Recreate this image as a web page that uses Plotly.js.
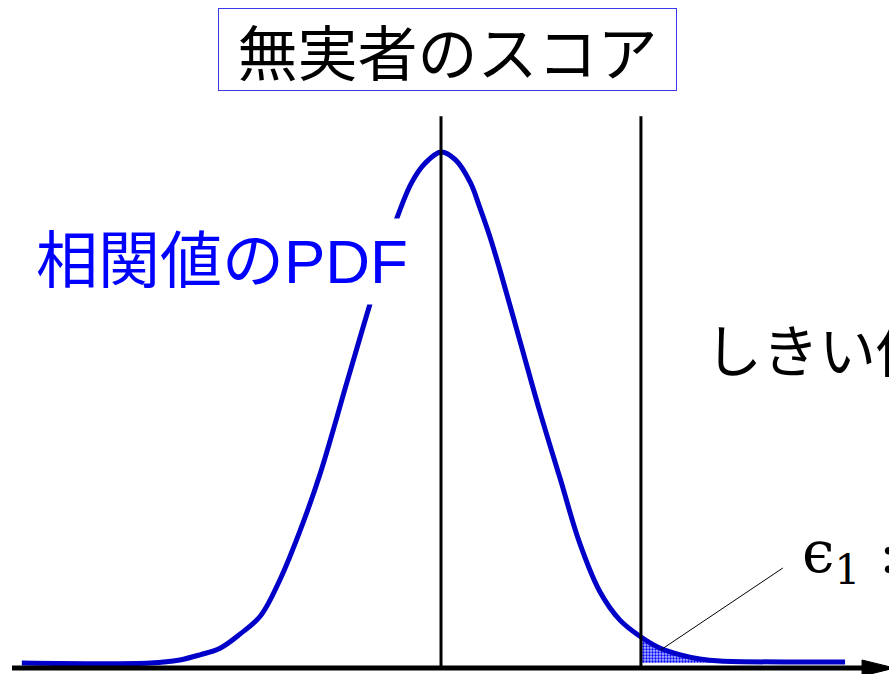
<!DOCTYPE html>
<html>
<head>
<meta charset="utf-8">
<script src="https://cdn.plot.ly/plotly-3.0.1.min.js"></script>
<style>html,body{margin:0;padding:0;background:#fff;}#chart{width:889px;height:674px;}</style>
</head>
<body>
<div id="chart"></div>
<script>
// Score axis in units of the distribution's spread (mean = 0)
const scoreX = [-4.99, -3.46, -3.11, -2.87, -2.63, -2.39, -2.15, -1.92, -1.68, -1.44, -1.11, -0.85, -0.57, -0.35, -0.19, 0, 0.17, 0.35, 0.46, 0.58, 0.70, 0.94, 1.18, 1.42, 1.65, 1.89, 2.13, 2.38, 2.61, 2.85, 3.08, 3.32, 4.81];
const pdfY   = [0, 0, 0.006, 0.016, 0.029, 0.057, 0.092, 0.162, 0.258, 0.370, 0.555, 0.700, 0.850, 0.940, 0.978, 1.0, 0.985, 0.940, 0.892, 0.835, 0.770, 0.630, 0.490, 0.360, 0.235, 0.140, 0.084, 0.051, 0.029, 0.016, 0.008, 0.004, 0.002];
const meanX = 0;
const thresholdX = 2.38;
const tailX = [2.38, 2.61, 2.85, 3.08, 3.2];
const tailY = [0.051, 0.029, 0.016, 0.008, 0.006];
const lineTop = 1.07;

const titleText = "無実者のスコア";
const pdfLabel = "相関値のPDF";
const thresholdLabel = "しきい値";
const epsLabel = "ϵ<sub>1</sub> :";

const traces = [
  {x: tailX, y: tailY, type: 'scatter', mode: 'lines', fill: 'tozeroy',
   line: {width: 0, color: '#0000ff'},
   fillpattern: {shape: '.', fgcolor: '#0000ff', bgcolor: '#b4b8ff', size: 3, solidity: 0.45},
   hoverinfo: 'skip'},
  {x: scoreX, y: pdfY, type: 'scatter', mode: 'lines',
   line: {color: '#0000c8', width: 5, shape: 'spline', smoothing: 1}, hoverinfo: 'skip'},
  {x: [meanX, meanX], y: [-0.01, lineTop], type: 'scatter', mode: 'lines',
   line: {color: '#000', width: 3}, hoverinfo: 'skip'},
  {x: [thresholdX, thresholdX], y: [-0.01, lineTop], type: 'scatter', mode: 'lines',
   line: {color: '#000', width: 3}, hoverinfo: 'skip'}
];

const layout = {
  width: 889, height: 674,
  margin: {l: 0, r: 0, t: 0, b: 0},
  paper_bgcolor: '#fff', plot_bgcolor: '#fff',
  showlegend: false,
  xaxis: {range: [-5.25, 5.333], visible: false, fixedrange: true},
  yaxis: {range: [-0.0215, 1.2975], visible: false, fixedrange: true},
  shapes: [
    {type: 'line', xref: 'x', yref: 'y', x0: -5.107, x1: 5.06, y0: -0.0098, y1: -0.0098,
     line: {color: '#000', width: 5}},
    {type: 'path', xref: 'x', yref: 'y', path: 'M 5.012,-0.0255 L 5.40,-0.0098 L 5.012,0.0059 Z',
     fillcolor: '#000', line: {color: '#000', width: 1}},
    {type: 'line', xref: 'x', yref: 'y', x0: 2.61, y0: 0.025, x1: 4.07, y1: 0.186,
     line: {color: '#000', width: 1}}
  ],
  annotations: [
    {text: titleText, xref: 'paper', yref: 'paper', x: 447.5/889, y: 1 - 49.5/674,
     xanchor: 'center', yanchor: 'middle', showarrow: false,
     width: 457, height: 81, borderpad: 0, bordercolor: '#3a3ae8', borderwidth: 1, bgcolor: '#fff',
     font: {family: 'Noto Sans CJK JP', size: 60, color: '#000'}},
    {text: pdfLabel, xref: 'paper', yref: 'paper', x: 222/889, y: 1 - 261/674,
     xanchor: 'center', yanchor: 'middle', showarrow: false,
     width: 384, height: 85, borderpad: 0, bgcolor: '#fff',
     font: {family: 'Liberation Sans, Noto Sans CJK JP', size: 62, color: '#0000ff'}},
    {text: thresholdLabel, xref: 'paper', yref: 'paper', x: 703/889, y: 1 - 347/674,
     xanchor: 'left', yanchor: 'middle', showarrow: false,
     font: {family: 'Noto Sans CJK JP', size: 57, color: '#000'}},
    {text: epsLabel, xref: 'paper', yref: 'paper', x: 800/889, y: 1 - 556/674,
     xanchor: 'left', yanchor: 'middle', showarrow: false,
     font: {family: 'DejaVu Serif, Liberation Serif', size: 58, color: '#000'}}
  ]
};

Plotly.newPlot('chart', traces, layout, {staticPlot: true, displayModeBar: false});
</script>
</body>
</html>
